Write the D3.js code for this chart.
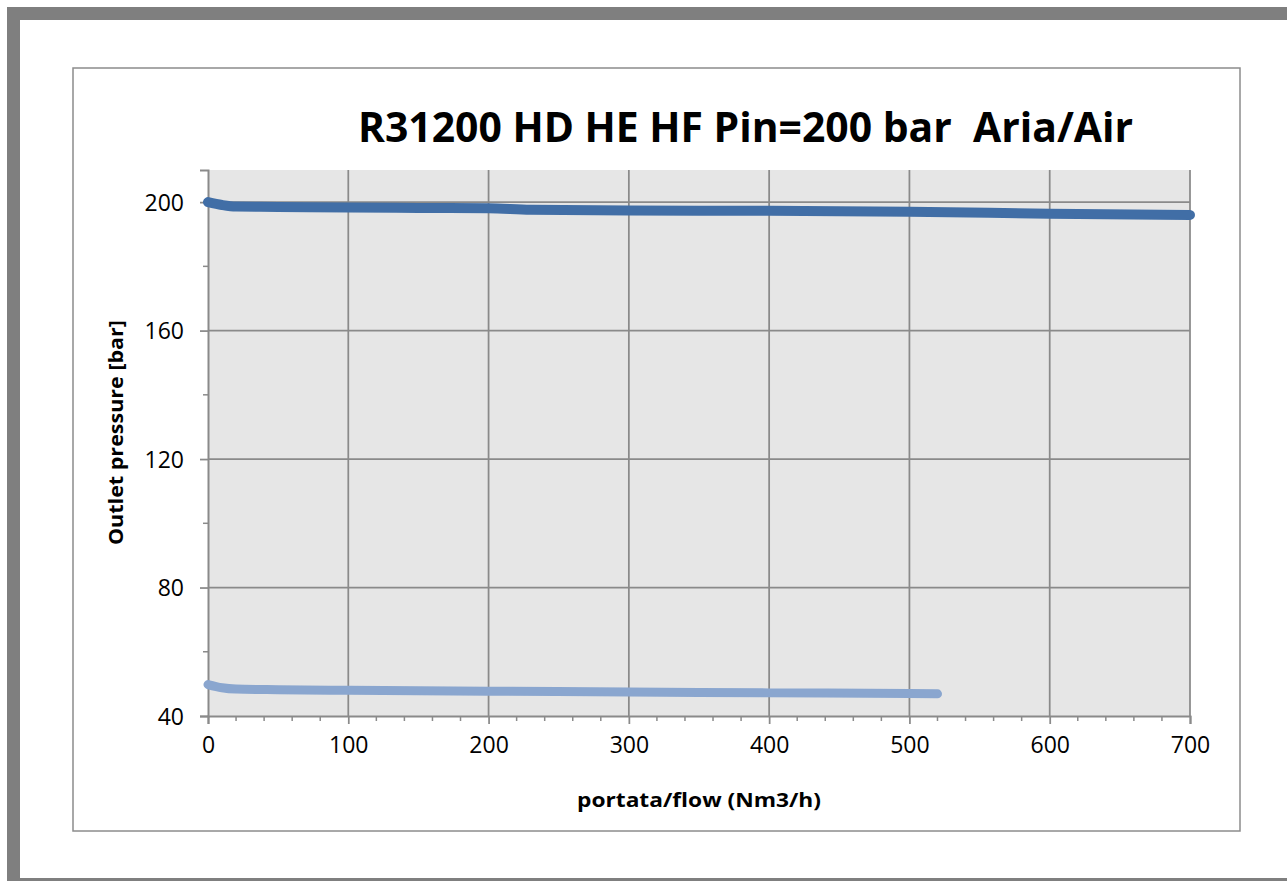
<!DOCTYPE html>
<html>
<head>
<meta charset="UTF-8">
<title>R31200 HD HE HF</title>
<script src="https://d3js.org/d3.v7.min.js"></script>
<style>
  body { margin: 0; background: #fff; }
  text { font-family: "Open Sans", "DejaVu Sans", sans-serif; fill: #000; }
</style>
</head>
<body>
<div id="chart"></div>
<script>
// flow (Nm3/h) and outlet pressure (bar)
var flowHigh = [0, 10, 20, 50, 100, 150, 200, 230, 300, 400, 500, 600, 700];
var pressHigh = [200, 199.1, 198.6, 198.5, 198.3, 198.2, 198.1, 197.6, 197.4, 197.3, 197.0, 196.4, 196.0];
var flowLow = [0, 10, 20, 50, 100, 200, 300, 400, 500, 520];
var pressLow = [49.8, 48.8, 48.4, 48.2, 48.0, 47.7, 47.5, 47.2, 47.0, 46.9];

var xTicks = [0, 100, 200, 300, 400, 500, 600, 700];
var yTicks = [40, 80, 120, 160, 200];

var W = 1287, H = 881;
var plot = {left: 208, right: 1190, top: 170, bottom: 716};

var svg = d3.select("#chart").append("svg")
  .attr("width", W).attr("height", H);

// outer gray frame
svg.append("rect")
  .attr("x", 13.5).attr("y", 13.5)
  .attr("width", 1310).attr("height", 871)
  .attr("fill", "none").attr("stroke", "#7f7f7f").attr("stroke-width", 13);

// chart area box
svg.append("rect")
  .attr("x", 73).attr("y", 68)
  .attr("width", 1167).attr("height", 763)
  .attr("fill", "#fff").attr("stroke", "#8c8c8c").attr("stroke-width", 1.5);

var x = d3.scaleLinear().domain([0, 700]).range([plot.left, plot.right]);
var y = d3.scaleLinear().domain([40, 210]).range([plot.bottom, plot.top]);

// plot background
svg.append("rect")
  .attr("x", plot.left).attr("y", plot.top)
  .attr("width", plot.right - plot.left).attr("height", plot.bottom - plot.top)
  .attr("fill", "#e6e6e6");

// gridlines
svg.append("g").selectAll("line").data(xTicks.slice(1)).enter().append("line")
  .attr("x1", function(d) { return x(d); }).attr("x2", function(d) { return x(d); })
  .attr("y1", plot.top).attr("y2", plot.bottom)
  .attr("stroke", "#8a8a8a").attr("stroke-width", 1.75);
svg.append("g").selectAll("line").data(yTicks.slice(1)).enter().append("line")
  .attr("x1", plot.left).attr("x2", plot.right)
  .attr("y1", function(d) { return y(d); }).attr("y2", function(d) { return y(d); })
  .attr("stroke", "#8a8a8a").attr("stroke-width", 1.75);

// minor ticks
var xMinor = d3.range(0, 701, 20).filter(function(d) { return d % 100 != 0; });
var yMinor = d3.range(60, 210, 40);
svg.append("g").selectAll("line").data(xMinor).enter().append("line")
  .attr("x1", function(d) { return x(d); }).attr("x2", function(d) { return x(d); })
  .attr("y1", plot.bottom).attr("y2", plot.bottom + 5)
  .attr("stroke", "#8a8a8a").attr("stroke-width", 1.5);
svg.append("g").selectAll("line").data(yMinor).enter().append("line")
  .attr("x1", plot.left - 5).attr("x2", plot.left)
  .attr("y1", function(d) { return y(d); }).attr("y2", function(d) { return y(d); })
  .attr("stroke", "#8a8a8a").attr("stroke-width", 1.5);

// axes
var xAxis = svg.append("g")
  .attr("transform", "translate(0," + plot.bottom + ")")
  .call(d3.axisBottom(x).tickValues(xTicks).tickSize(8).tickPadding(13));
var yAxis = svg.append("g")
  .attr("transform", "translate(" + plot.left + ",0)")
  .call(d3.axisLeft(y).tickValues(yTicks).tickSize(8).tickPadding(16));
[xAxis, yAxis].forEach(function(a) {
  a.select(".domain").attr("stroke", "#8a8a8a").attr("stroke-width", 2);
  a.selectAll(".tick line").attr("stroke", "#8a8a8a").attr("stroke-width", 1.75);
  a.selectAll(".tick text").style("font-family", "'Open Sans', sans-serif")
    .style("font-size", "23px").attr("fill", "#000");
});
yAxis.selectAll(".tick text").attr("dy", "0.36em");

// series lines
var line = d3.line().curve(d3.curveMonotoneX)
  .x(function(d) { return x(d[0]); })
  .y(function(d) { return y(d[1]); });

svg.append("path")
  .datum(d3.zip(flowLow, pressLow))
  .attr("fill", "none").attr("stroke", "#8aa6cf").attr("stroke-width", 9)
  .attr("stroke-linecap", "round").attr("stroke-linejoin", "round")
  .attr("d", line);

svg.append("path")
  .datum(d3.zip(flowHigh, pressHigh))
  .attr("fill", "none").attr("stroke", "#416ea6").attr("stroke-width", 10)
  .attr("stroke-linecap", "round").attr("stroke-linejoin", "round")
  .attr("d", line);

// titles
svg.append("text")
  .attr("x", 358).attr("y", 142)
  .attr("textLength", 775).attr("lengthAdjust", "spacingAndGlyphs")
  .style("font-size", "41px").style("font-weight", "bold")
  .style("white-space", "pre")
  .text("R31200 HD HE HF Pin=200 bar  Aria/Air");

svg.append("text")
  .attr("x", 577).attr("y", 807)
  .attr("textLength", 244).attr("lengthAdjust", "spacingAndGlyphs")
  .style("font-size", "19px").style("font-weight", "bold")
  .text("portata/flow (Nm3/h)");

svg.append("text")
  .attr("transform", "translate(123,545) rotate(-90)")
  .attr("textLength", 225).attr("lengthAdjust", "spacingAndGlyphs")
  .style("font-size", "19px").style("font-weight", "bold")
  .text("Outlet pressure [bar]");
</script>
</body>
</html>
